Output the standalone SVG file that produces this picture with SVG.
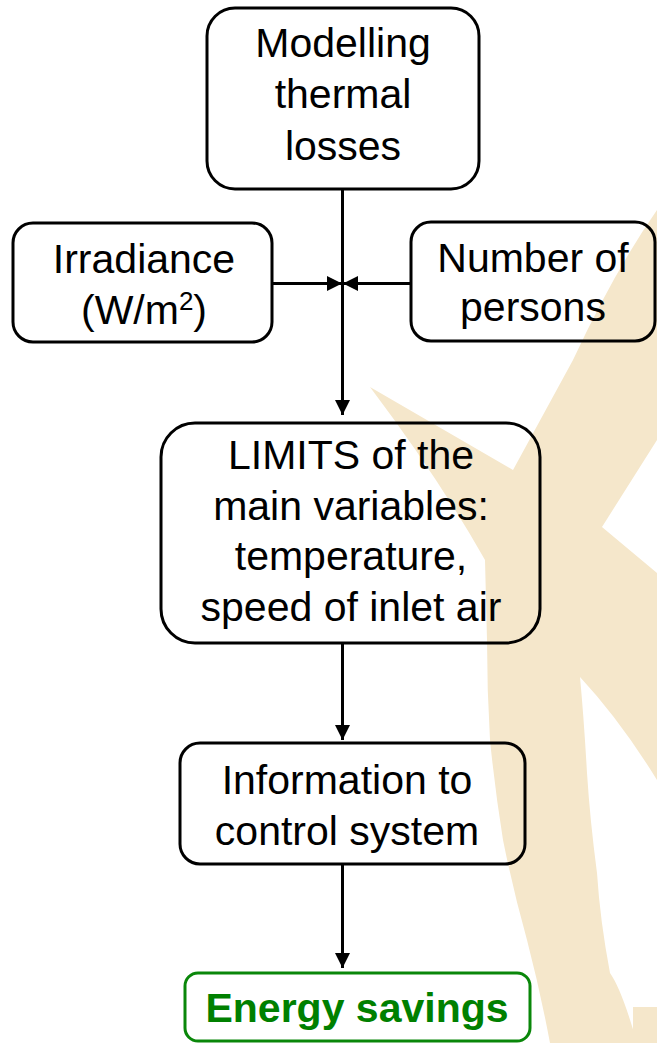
<svg xmlns="http://www.w3.org/2000/svg" width="657" height="1043" viewBox="0 0 657 1043">
<style>
.box{fill:none;stroke:#000;stroke-width:3}
.gbox{fill:none;stroke:#0a870a;stroke-width:3}
.t{font-family:"Liberation Sans",Arial,sans-serif;font-size:41px;fill:#000;text-anchor:middle}
.g{font-family:"Liberation Sans",Arial,sans-serif;font-size:41px;font-weight:bold;fill:#008000;text-anchor:middle}
.c{stroke:#000;stroke-width:3;fill:none}
</style>
<defs>
<marker id="ah" markerUnits="userSpaceOnUse" markerWidth="16" markerHeight="16" refX="15" refY="7.5" orient="auto">
<path d="M0,0 L15,7.5 L0,15 Z" fill="#000"/>
</marker>
</defs>
<rect width="657" height="1043" fill="#fff"/>
<g id="watermark" fill="#F5E7CB">
<path d="M657,210 Q615,270 573,360 L513,470 L370,387 Q440,480 485,560 Q486,600 487,640 Q487,690 490,740 Q495,790 503,840 Q513,890 527,940 Q540,990 550,1043 L637,1043 Q622,990 610,973 Q600,920 597,873 Q590,820 587,773 Q584,720 580,677 Q620,720 657,780 L657,573 L602,527 L657,440 Z"/>
<rect x="633" y="1007" width="24" height="36"/>
</g>
<g id="connectors">
<line class="c" x1="342.5" y1="190" x2="342.5" y2="415" marker-end="url(#ah)"/>
<line class="c" x1="272" y1="283.5" x2="342" y2="283.5" marker-end="url(#ah)"/>
<line class="c" x1="411" y1="283.5" x2="343" y2="283.5" marker-end="url(#ah)"/>
<line class="c" x1="342.5" y1="643" x2="342.5" y2="740" marker-end="url(#ah)"/>
<line class="c" x1="342.5" y1="865" x2="342.5" y2="968" marker-end="url(#ah)"/>
</g>
<g id="modelling">
<rect class="box" x="207" y="8" width="272" height="181" rx="28"/>
<text class="t" x="343" y="57">Modelling</text>
<text class="t" x="343" y="108">thermal</text>
<text class="t" x="343" y="160">losses</text>
</g>
<g id="irradiance">
<rect class="box" x="13" y="223" width="259" height="119" rx="20"/>
<text class="t" x="144" y="273">Irradiance</text>
<text class="t" x="144" y="324">(W/m<tspan font-size="26" dy="-14">2</tspan><tspan dy="14">)</tspan></text>
</g>
<g id="persons">
<rect class="box" x="411" y="222" width="244" height="119" rx="20"/>
<text class="t" x="533" y="272">Number of</text>
<text class="t" x="533" y="321">persons</text>
</g>
<g id="limits">
<rect class="box" x="161" y="423" width="379" height="220" rx="34"/>
<text class="t" x="351" y="469">LIMITS of the</text>
<text class="t" x="351" y="520">main variables:</text>
<text class="t" x="351" y="570">temperature,</text>
<text class="t" x="351" y="621">speed of inlet air</text>
</g>
<g id="information">
<rect class="box" x="180" y="743" width="345" height="121" rx="20"/>
<text class="t" x="347" y="794">Information to</text>
<text class="t" x="347" y="845">control system</text>
</g>
<g id="energy">
<rect class="gbox" x="185" y="973" width="345" height="68" rx="13"/>
<text class="g" x="357" y="1022">Energy savings</text>
</g>
</svg>
